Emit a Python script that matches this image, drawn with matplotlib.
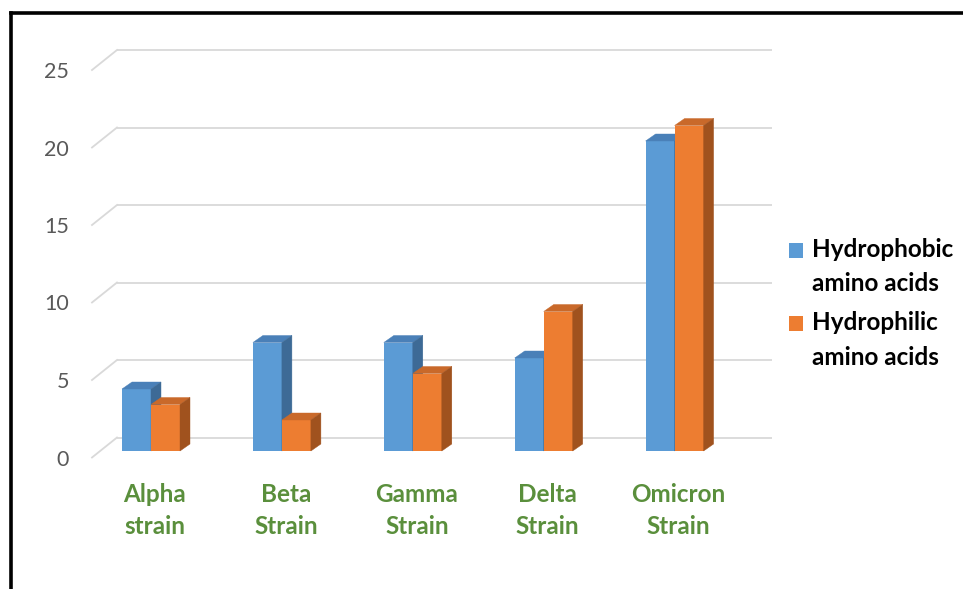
import matplotlib
matplotlib.use("Agg")
import matplotlib.pyplot as plt
from matplotlib.patches import Polygon, Patch
from matplotlib.lines import Line2D
import matplotlib.transforms as mtransforms

# ---------------- data ----------------
categories = ["Alpha\nstrain", "Beta\nStrain", "Gamma\nStrain", "Delta\nStrain", "Omicron\nStrain"]
hydrophobic = [4, 7, 7, 6, 20]
hydrophilic = [3, 2, 5, 9, 21]
series_names = ["Hydrophobic\namino acids", "Hydrophilic\namino acids"]
y_ticks = [0, 5, 10, 15, 20, 25]

# ---------------- style ----------------
W, H = 963, 589
FONT = ["Lato", "DejaVu Sans"]
plt.rcParams["font.family"] = FONT

blue_front, blue_top, blue_side = "#5B9BD5", "#4A80B8", "#3D6A96"
orange_front, orange_top, orange_side = "#ED7D31", "#C9692A", "#A0521E"
grid_col = "#D9D9D9"
green = "#5A8F3C"

PX_X = 130.9   # pixels per category
PX_Y = 15.5    # pixels per value unit

fig = plt.figure(figsize=(W / 100, H / 100), dpi=100)
left_px, bottom_px = 151 - 0.5 * PX_X, 451
ax = fig.add_axes([left_px / W, (H - bottom_px) / H, 5 * PX_X / W, 25 * PX_Y / H])
ax.set_xlim(-0.5, 4.5)
ax.set_ylim(0, 25)
for s in ax.spines.values():
    s.set_visible(False)

# 3D geometry (in data units)
bar_dx, bar_dy = 10 / PX_X, 7 / PX_Y              # bar depth
front_dx, front_dy = -8.75 / PX_X, -6.5 / PX_Y      # front floor edge relative to bar plane
back_dx, back_dy = 16.25 / PX_X, 13.5 / PX_Y        # back wall relative to bar plane
grid_x0 = (92 - 151) / PX_X - front_dx              # bar-plane x of floor left end
grid_len = 5.0                                       # 5 categories long

# gridlines on back wall + diagonal on side wall
for v in y_ticks:
    xs_front = grid_x0 + front_dx
    xs_back = grid_x0 + back_dx
    ax.plot([xs_back, xs_back + grid_len], [v + back_dy, v + back_dy],
            color=grid_col, lw=1.3, zorder=1, clip_on=False, solid_capstyle="butt")
    ax.plot([xs_front, xs_back], [v + front_dy, v + back_dy],
            color=grid_col, lw=1.3, zorder=1, clip_on=False)

# bars
w = 29 / PX_X
xs = list(range(len(categories)))


def draw_bars(xcenters, vals, cf, ct, cs):
    bars = ax.bar(xcenters, vals, width=w, color=cf, linewidth=0, zorder=3, clip_on=False)
    for b, h in zip(bars, vals):
        x0 = b.get_x()
        x1 = x0 + b.get_width()
        top = Polygon([(x0, h), (x1, h), (x1 + bar_dx, h + bar_dy), (x0 + bar_dx, h + bar_dy)],
                      closed=True, facecolor=ct, edgecolor=ct, lw=0.3, zorder=3, clip_on=False)
        side = Polygon([(x1, 0), (x1 + bar_dx, bar_dy), (x1 + bar_dx, h + bar_dy), (x1, h)],
                       closed=True, facecolor=cs, edgecolor=cs, lw=0.3, zorder=3, clip_on=False)
        ax.add_patch(top)
        ax.add_patch(side)
    return bars


# draw per category so orange front covers blue side
for i in xs:
    draw_bars([i - w / 2], [hydrophobic[i]], blue_front, blue_top, blue_side)
    draw_bars([i + w / 2], [hydrophilic[i]], orange_front, orange_top, orange_side)

# y ticks (on front edge)
ax.set_yticks(y_ticks)
ax.set_yticklabels([str(t) for t in y_ticks])
ax.tick_params(axis="y", length=0, pad=12, labelsize=15.5, labelcolor="#595959")
yoff = mtransforms.ScaledTranslation(0, -6.5 / 100, fig.dpi_scale_trans)
for lab in ax.get_yticklabels():
    lab.set_transform(lab.get_transform() + yoff)

# x ticks
ax.set_xticks(xs)
ax.set_xticklabels(categories)
ax.tick_params(axis="x", length=0, pad=23, labelsize=17.5, labelcolor=green)
xoff = mtransforms.ScaledTranslation(4 / 100, 0, fig.dpi_scale_trans)
for lab in ax.get_xticklabels():
    lab.set_fontweight("bold")
    lab.set_linespacing(1.5)
    lab.set_transform(lab.get_transform() + xoff)

# legend
handles = [Patch(facecolor=blue_front, edgecolor="none"),
           Patch(facecolor=orange_front, edgecolor="none")]
leg = ax.legend(handles, series_names, loc="upper left",
                bbox_to_anchor=(789 / W, 1 - 238 / H), bbox_transform=fig.transFigure,
                frameon=False, borderpad=0, borderaxespad=0,
                prop={"family": FONT, "weight": "bold", "size": 17.5},
                handlelength=0.58, handleheight=0.58, handletextpad=0.36,
                labelspacing=0.65)
for t in leg.get_texts():
    t.set_linespacing(1.6)
    t.set_color("#000000")
# align square handles with first text line
for hnd in leg.legend_handles:
    hnd.set_y(hnd.get_y() + 12.5)

# figure border (top and left)
fig.add_artist(Line2D([11 / W, 11 / W], [-0.01, 1 - 13 / H], color="black", lw=2.6,
                      transform=fig.transFigure, solid_capstyle="projecting"))
fig.add_artist(Line2D([11 / W, 1.01], [1 - 13 / H, 1 - 13 / H], color="black", lw=2.6,
                      transform=fig.transFigure, solid_capstyle="projecting"))

fig.savefig("out.png", dpi=100, facecolor="white")
